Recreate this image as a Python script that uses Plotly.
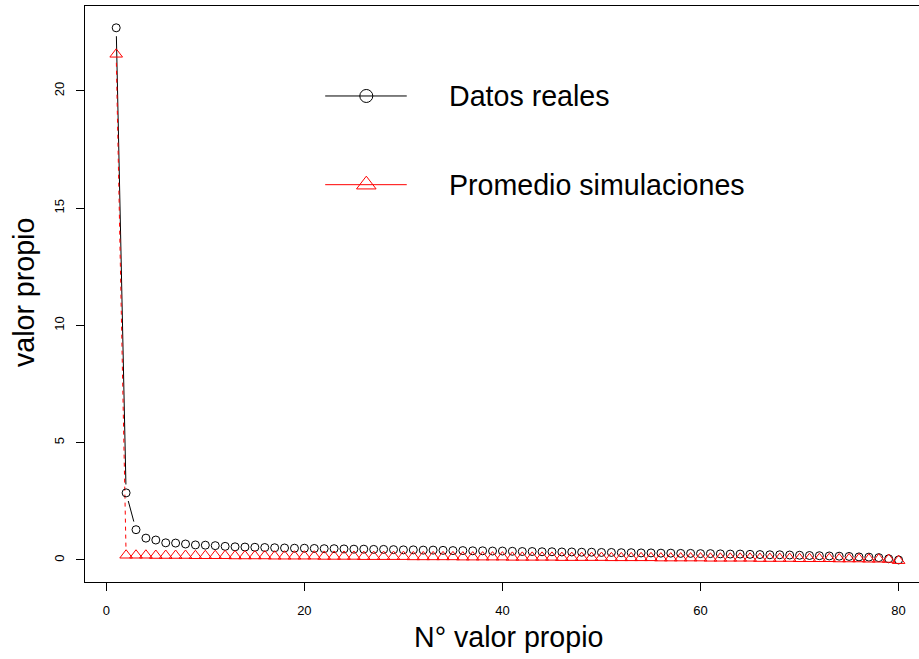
import math
import plotly.graph_objects as go

# Eigenvalue index and the two eigenvalue series
n_valor = list(range(1, 81))

datos_reales = [
    22.69, 2.86, 1.29, 0.93, 0.85, 0.73, 0.72, 0.68, 0.64, 0.63,
    0.61, 0.58, 0.56, 0.55, 0.54, 0.53, 0.52, 0.51, 0.50, 0.50,
    0.49, 0.48, 0.48, 0.47, 0.46, 0.46, 0.45, 0.45, 0.44, 0.43,
    0.43, 0.42, 0.42, 0.41, 0.40, 0.40, 0.39, 0.39, 0.38, 0.38,
    0.37, 0.36, 0.36, 0.35, 0.35, 0.34, 0.34, 0.33, 0.33, 0.32,
    0.32, 0.31, 0.31, 0.30, 0.30, 0.29, 0.29, 0.28, 0.28, 0.27,
    0.27, 0.26, 0.25, 0.25, 0.24, 0.23, 0.22, 0.22, 0.21, 0.20,
    0.19, 0.18, 0.17, 0.16, 0.15, 0.13, 0.12, 0.10, 0.05, 0.00,
]

promedio_sim = [
    21.56, 0.20, 0.20, 0.20, 0.19, 0.19, 0.19, 0.19, 0.18, 0.18,
    0.18, 0.18, 0.17, 0.17, 0.17, 0.17, 0.16, 0.16, 0.16, 0.16,
    0.16, 0.15, 0.15, 0.15, 0.15, 0.14, 0.14, 0.14, 0.14, 0.14,
    0.13, 0.13, 0.13, 0.13, 0.13, 0.12, 0.12, 0.12, 0.12, 0.12,
    0.11, 0.11, 0.11, 0.11, 0.11, 0.10, 0.10, 0.10, 0.10, 0.10,
    0.09, 0.09, 0.09, 0.09, 0.09, 0.08, 0.08, 0.08, 0.08, 0.08,
    0.07, 0.07, 0.07, 0.07, 0.07, 0.06, 0.06, 0.06, 0.06, 0.05,
    0.05, 0.05, 0.05, 0.04, 0.04, 0.04, 0.03, 0.03, 0.02, -0.03,
]

x_ticks = [0, 20, 40, 60, 80]
y_ticks = [0, 5, 10, 15, 20]

# Layout geometry
W, H = 919, 659
M_L, M_R, M_T, M_B = 85, 0, 6, 77
X_RANGE = [-2.15, 82.06]
Y_RANGE = [-0.94, 23.62]
FONT = "Liberation Sans, Arial, Helvetica, sans-serif"

plot_w = W - M_L - M_R
plot_h = H - M_T - M_B
sx = plot_w / (X_RANGE[1] - X_RANGE[0])
sy = plot_h / (Y_RANGE[1] - Y_RANGE[0])


def gapped_segments(xs, ys, gap_px=8.4):
    """Connecting segments that stop short of each point (base-R type='b')."""
    out_x, out_y = [], []
    for i in range(len(xs) - 1):
        dx, dy = xs[i + 1] - xs[i], ys[i + 1] - ys[i]
        d = math.hypot(dx * sx, dy * sy)
        if d <= 2 * gap_px:
            continue
        f = gap_px / d
        out_x += [xs[i] + f * dx, xs[i + 1] - f * dx, None]
        out_y += [ys[i] + f * dy, ys[i + 1] - f * dy, None]
    return out_x, out_y


fig = go.Figure()

bx, by = gapped_segments(n_valor, datos_reales)
fig.add_trace(go.Scatter(x=bx, y=by, mode="lines",
                         line=dict(color="black", width=1),
                         hoverinfo="skip", showlegend=False))
rx, ry = gapped_segments(n_valor, promedio_sim)
fig.add_trace(go.Scatter(x=rx, y=ry, mode="lines",
                         line=dict(color="red", width=1, dash="4px,4px"),
                         hoverinfo="skip", showlegend=False))

fig.add_trace(go.Scatter(x=n_valor, y=datos_reales, mode="markers",
                         name="Datos reales",
                         marker=dict(symbol="circle-open", size=8,
                                     color="black", line=dict(width=1)),
                         showlegend=False))
fig.add_trace(go.Scatter(x=n_valor, y=promedio_sim, mode="markers",
                         name="Promedio simulaciones",
                         marker=dict(symbol="triangle-up-open", size=11,
                                     color="red", line=dict(width=1)),
                         showlegend=False))

# Hand-drawn legend: long line samples with a symbol in the middle
leg_x0, leg_x1, leg_xm = 0.2880, 0.3858, 0.3373
leg_rows = [
    ("Datos reales", 0.8438, "black", "circle-open", 13),
    ("Promedio simulaciones", 0.6898, "red", "triangle-up-open", 17),
]
shapes = []
annotations = []
for label, yy, col, sym, sz in leg_rows:
    shapes.append(dict(type="line", xref="paper", yref="paper",
                       x0=leg_x0, x1=leg_x1, y0=yy, y1=yy,
                       line=dict(color=col, width=1)))
    fig.add_trace(go.Scatter(x=[leg_xm], y=[yy], mode="markers",
                             xaxis="x2", yaxis="y2",
                             marker=dict(symbol=sym, size=sz, color=col,
                                         line=dict(width=1)),
                             hoverinfo="skip", showlegend=False))
    annotations.append(dict(text=label, xref="paper", yref="paper",
                            x=0.4335, y=yy, xanchor="left", yanchor="middle",
                            showarrow=False,
                            font=dict(family=FONT, size=28.6, color="black")))

# Axis titles
annotations.append(dict(text="N° valor propio", xref="paper", yref="paper",
                        x=0.5072, y=-0.0955, xanchor="center", yanchor="middle",
                        showarrow=False,
                        font=dict(family=FONT, size=28.6, color="black")))
annotations.append(dict(text="valor propio", xref="paper", yref="paper",
                        x=-0.0731, y=0.5017, xanchor="center", yanchor="middle",
                        textangle=-90, showarrow=False,
                        font=dict(family=FONT, size=28.6, color="black")))

fig.update_layout(
    width=W, height=H,
    margin=dict(l=M_L, r=M_R, t=M_T, b=M_B, pad=0),
    paper_bgcolor="white", plot_bgcolor="white",
    font=dict(family=FONT, size=13, color="black"),
    showlegend=False,
    shapes=shapes,
    annotations=annotations,
    xaxis=dict(range=X_RANGE, tickvals=x_ticks, ticktext=[str(v) for v in x_ticks],
               ticks="outside", ticklen=8, tickwidth=1, tickcolor="black",
               ticklabelstandoff=8,
               showline=True, linecolor="black", linewidth=1, mirror=True,
               showgrid=False, zeroline=False,
               tickfont=dict(family=FONT, size=13, color="black")),
    yaxis=dict(range=Y_RANGE, tickvals=y_ticks, ticktext=[str(v) for v in y_ticks],
               ticks="outside", ticklen=8, tickwidth=1, tickcolor="black",
               tickangle=-90, ticklabelstandoff=7,
               showline=True, linecolor="black", linewidth=1, mirror=False,
               showgrid=False, zeroline=False,
               tickfont=dict(family=FONT, size=13, color="black")),
    xaxis2=dict(range=[0, 1], overlaying="x", visible=False, fixedrange=True),
    yaxis2=dict(range=[0, 1], overlaying="y", visible=False, fixedrange=True),
)

fig.write_html("out.html")
